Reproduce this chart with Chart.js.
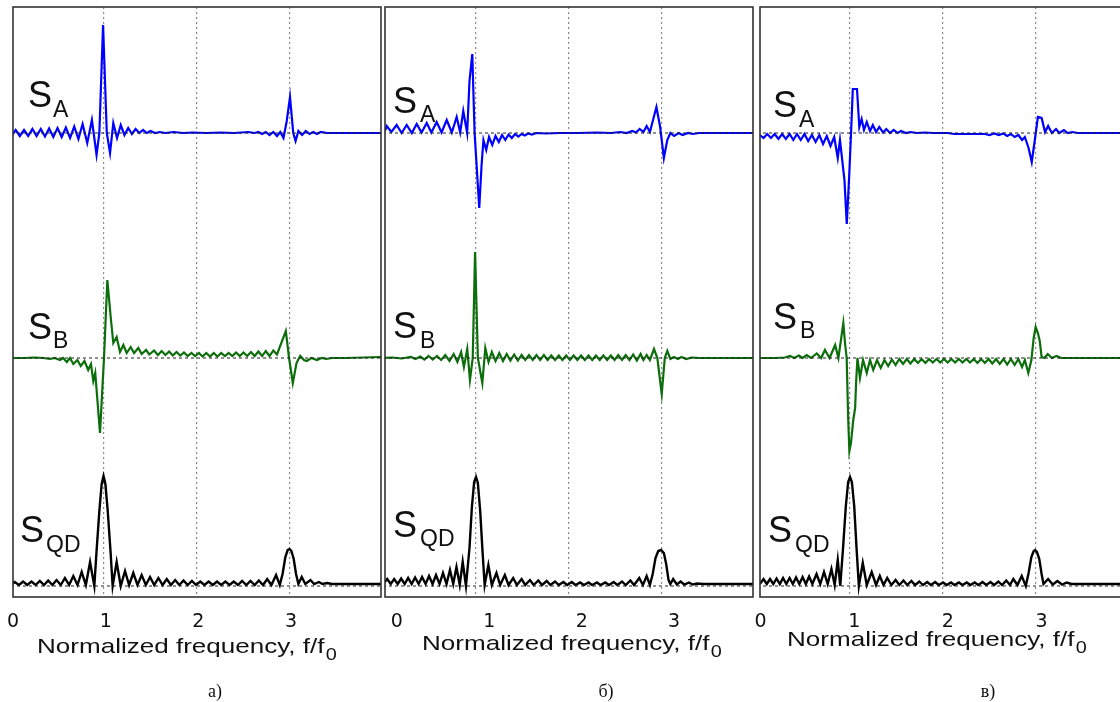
<!DOCTYPE html>
<html>
<head>
<meta charset="utf-8">
<script src="https://cdn.jsdelivr.net/npm/chart.js@4.4.1/dist/chart.umd.min.js"></script>
<style>
  body { margin: 0; background: #fff; width: 1120px; height: 702px; overflow: hidden; position: relative; }
  canvas { position: absolute; top: 0; }
</style>
</head>
<body>
<canvas id="panelA" width="392" height="702" style="left:1px"></canvas>
<canvas id="panelB" width="392" height="702" style="left:373px"></canvas>
<canvas id="panelC" width="392" height="702" style="left:748px"></canvas>
<script>
// x = normalized frequency (grid units), y = amplitude, a.u.
const tickValues = [0, 1, 2, 3];
const gridValues = [1, 2, 3];
const zeroLine = [[0, 0], [4, 0]];

// panel a)
const saA = [[0.005,-0.03],[0.05,0.03],[0.095,-0.03],[0.14,0.03],[0.185,-0.03],[0.23,0.04],[0.275,-0.03],[0.32,0.04],[0.365,-0.035],[0.41,0.045],[0.455,-0.04],[0.5,0.05],[0.545,-0.04],[0.59,0.055],[0.635,-0.05],[0.68,0.065],[0.725,-0.06],[0.77,0.09],[0.82,-0.1],[0.87,0.13],[0.92,-0.22],[0.95,0],[0.99,1.08],[1.03,0],[1.065,-0.2],[1.1,0.1],[1.14,-0.05],[1.18,0.08],[1.22,-0.02],[1.26,0.05],[1.3,-0.01],[1.34,0.04],[1.38,0],[1.42,0.03],[1.46,0],[1.5,0.02],[1.55,0],[1.6,0.01],[1.66,0],[1.75,0.01],[1.85,0],[1.95,0.005],[2.1,0],[2.25,0.005],[2.4,0],[2.55,0.01],[2.62,0],[2.66,0.01],[2.7,-0.01],[2.74,0.01],[2.78,-0.02],[2.82,0.01],[2.86,-0.03],[2.895,0.01],[2.93,-0.05],[2.965,0.12],[3.0,0.36],[3.035,0],[3.06,-0.08],[3.09,0.02],[3.13,-0.02],[3.17,0.02],[3.21,-0.01],[3.25,0.01],[3.29,-0.01],[3.33,0.01],[3.4,0],[3.98,0]];
const sbA = [[0,0],[0.15,0],[0.25,0.005],[0.35,0],[0.42,-0.01],[0.47,0],[0.527,-0.02],[0.56,0],[0.6,-0.04],[0.634,0],[0.67,-0.06],[0.713,-0.02],[0.75,-0.08],[0.79,-0.03],[0.83,-0.12],[0.86,-0.06],[0.885,-0.23],[0.906,-0.15],[0.957,-0.75],[1.0,0],[1.036,0.78],[1.072,0.41],[1.1,0.15],[1.136,0.21],[1.172,0.06],[1.208,0.13],[1.244,0.05],[1.287,0.11],[1.323,0.05],[1.369,0.1],[1.405,0.04],[1.452,0.08],[1.487,0.035],[1.538,0.075],[1.58,0.03],[1.62,0.07],[1.66,0.03],[1.7,0.065],[1.74,0.025],[1.78,0.06],[1.82,0.025],[1.86,0.055],[1.9,0.02],[1.94,0.05],[1.98,0.02],[2.02,0.05],[2.06,0.015],[2.1,0.05],[2.14,0.015],[2.18,0.05],[2.22,0.015],[2.26,0.05],[2.3,0.02],[2.34,0.05],[2.38,0.02],[2.42,0.055],[2.46,0.02],[2.5,0.055],[2.54,0.02],[2.58,0.06],[2.62,0.02],[2.66,0.065],[2.7,0.02],[2.74,0.07],[2.78,0.02],[2.82,0.075],[2.86,0.035],[2.955,0.27],[2.99,0],[3.03,-0.25],[3.07,-0.05],[3.11,0.02],[3.15,-0.02],[3.18,-0.03],[3.23,0],[3.29,-0.02],[3.34,0],[3.39,-0.01],[3.45,0],[3.6,0],[3.98,0.01]];
const sqdA = [[0,0.01],[0.04,0.04],[0.085,0.01],[0.13,0.045],[0.175,0.01],[0.22,0.045],[0.265,0.01],[0.31,0.05],[0.355,0.01],[0.4,0.055],[0.445,0.01],[0.49,0.06],[0.535,0.01],[0.58,0.08],[0.625,0.01],[0.67,0.1],[0.715,0.01],[0.76,0.14],[0.805,0.01],[0.85,0.24],[0.896,0],[0.92,0.35],[0.95,0.75],[0.975,1.02],[0.995,1.1],[1.015,1.02],[1.04,0.75],[1.07,0.35],[1.093,0],[1.136,0.24],[1.18,0],[1.226,0.15],[1.27,0.01],[1.315,0.13],[1.36,0.01],[1.405,0.11],[1.45,0.01],[1.495,0.09],[1.54,0.01],[1.585,0.08],[1.63,0.01],[1.675,0.07],[1.72,0.01],[1.765,0.06],[1.81,0.01],[1.855,0.055],[1.9,0.01],[1.945,0.05],[1.99,0.01],[2.035,0.045],[2.08,0.01],[2.125,0.045],[2.17,0.01],[2.215,0.045],[2.26,0.01],[2.305,0.045],[2.35,0.01],[2.395,0.045],[2.44,0.01],[2.485,0.05],[2.53,0.01],[2.575,0.05],[2.62,0.01],[2.665,0.055],[2.71,0.01],[2.755,0.07],[2.8,0.01],[2.85,0.11],[2.89,0.01],[2.92,0.12],[2.95,0.29],[2.975,0.36],[2.995,0.37],[3.015,0.35],[3.04,0.27],[3.065,0.12],[3.09,0.02],[3.126,0.09],[3.165,0.02],[3.22,0.06],[3.26,0.02],[3.31,0.04],[3.35,0.02],[3.4,0.03],[3.45,0.02],[3.98,0.02]];

// panel б)
const saB = [[0.02,0.02],[0.04,0.07],[0.09,0.01],[0.147,0.08],[0.2,0],[0.255,0.08],[0.31,0],[0.362,0.09],[0.415,0.005],[0.47,0.1],[0.52,0.005],[0.577,0.11],[0.63,0.005],[0.685,0.13],[0.74,0.005],[0.792,0.16],[0.83,0.005],[0.863,0.22],[0.905,0],[0.93,0.52],[0.96,0.79],[0.985,0],[1.035,-0.75],[1.06,-0.32],[1.08,-0.07],[1.11,-0.17],[1.14,-0.04],[1.175,-0.12],[1.21,-0.03],[1.245,-0.09],[1.28,-0.02],[1.315,-0.07],[1.35,-0.015],[1.385,-0.05],[1.42,-0.01],[1.455,-0.035],[1.49,-0.01],[1.525,-0.025],[1.56,-0.005],[1.6,-0.015],[1.65,0],[1.75,-0.005],[1.9,0],[2.1,0],[2.3,0.005],[2.45,0],[2.55,0.01],[2.62,0],[2.68,0.02],[2.72,0.005],[2.76,0.04],[2.8,0.01],[2.835,0.07],[2.87,0.01],[2.94,0.26],[2.98,0.06],[3.02,-0.25],[3.057,-0.07],[3.09,0],[3.13,-0.03],[3.18,0],[3.22,-0.02],[3.28,0],[3.33,-0.01],[3.4,0],[3.98,0]];
const sbB = [[0,0],[0.1,0.005],[0.2,-0.005],[0.3,0.01],[0.35,-0.01],[0.4,0.015],[0.445,-0.015],[0.49,0.02],[0.535,-0.015],[0.58,0.02],[0.625,-0.02],[0.67,0.03],[0.715,-0.03],[0.76,0.04],[0.8,-0.04],[0.84,0.06],[0.87,-0.09],[0.906,0.09],[0.935,-0.22],[0.965,0],[0.99,1.06],[1.02,0],[1.068,-0.25],[1.1,0.1],[1.135,-0.04],[1.17,0.06],[1.21,-0.03],[1.25,0.05],[1.29,-0.03],[1.33,0.04],[1.37,-0.025],[1.41,0.035],[1.45,-0.025],[1.49,0.03],[1.53,-0.02],[1.57,0.03],[1.61,-0.02],[1.65,0.03],[1.69,-0.02],[1.73,0.03],[1.77,-0.02],[1.81,0.025],[1.85,-0.02],[1.89,0.025],[1.93,-0.02],[1.97,0.025],[2.01,-0.02],[2.05,0.025],[2.09,-0.02],[2.13,0.025],[2.17,-0.02],[2.21,0.025],[2.25,-0.02],[2.29,0.025],[2.33,-0.02],[2.37,0.025],[2.41,-0.02],[2.45,0.025],[2.49,-0.02],[2.53,0.03],[2.57,-0.02],[2.61,0.03],[2.65,-0.02],[2.69,0.035],[2.73,-0.025],[2.77,0.04],[2.8,-0.02],[2.835,0.03],[2.87,-0.02],[2.914,0.09],[2.95,0],[2.997,-0.36],[3.03,0],[3.057,0.07],[3.09,-0.01],[3.13,0.01],[3.17,-0.01],[3.21,0.01],[3.26,-0.01],[3.32,0.005],[3.4,0],[3.98,0]];
const sqdB = [[0,0.02],[0.045,0.07],[0.083,0.02],[0.12,0.07],[0.158,0.02],[0.195,0.075],[0.233,0.02],[0.27,0.08],[0.308,0.02],[0.345,0.085],[0.383,0.02],[0.42,0.09],[0.458,0.02],[0.495,0.1],[0.533,0.02],[0.57,0.11],[0.608,0.02],[0.645,0.13],[0.683,0.02],[0.72,0.16],[0.755,0.02],[0.79,0.19],[0.825,0.01],[0.857,0.24],[0.892,0],[0.93,0.38],[0.955,0.78],[0.98,1.04],[1.0,1.09],[1.02,1.03],[1.045,0.75],[1.07,0.35],[1.093,0.01],[1.133,0.21],[1.17,0.01],[1.22,0.13],[1.26,0.01],[1.31,0.11],[1.35,0.01],[1.4,0.08],[1.44,0.01],[1.49,0.07],[1.53,0.01],[1.58,0.06],[1.62,0.01],[1.67,0.055],[1.71,0.01],[1.76,0.05],[1.8,0.01],[1.85,0.045],[1.89,0.01],[1.94,0.04],[1.98,0.01],[2.03,0.04],[2.07,0.01],[2.12,0.035],[2.16,0.01],[2.21,0.035],[2.25,0.01],[2.3,0.035],[2.34,0.01],[2.39,0.035],[2.43,0.01],[2.48,0.04],[2.52,0.01],[2.57,0.045],[2.61,0.01],[2.66,0.055],[2.7,0.01],[2.755,0.08],[2.795,0.01],[2.835,0.1],[2.87,0.01],[2.9,0.12],[2.93,0.28],[2.96,0.35],[2.99,0.36],[3.02,0.33],[3.045,0.22],[3.07,0.06],[3.09,0.02],[3.12,0.07],[3.16,0.015],[3.2,0.045],[3.24,0.015],[3.29,0.035],[3.33,0.015],[3.38,0.025],[3.44,0.02],[3.98,0.02]];

// panel в)
const saC = [[0.03,-0.02],[0.07,-0.05],[0.11,-0.01],[0.15,-0.05],[0.19,-0.01],[0.23,-0.06],[0.27,-0.01],[0.31,-0.06],[0.35,-0.01],[0.39,-0.07],[0.43,-0.01],[0.47,-0.07],[0.51,-0.01],[0.55,-0.08],[0.59,-0.02],[0.63,-0.09],[0.67,-0.02],[0.71,-0.11],[0.75,-0.03],[0.79,-0.13],[0.83,-0.04],[0.868,-0.25],[0.892,-0.07],[0.94,-0.47],[0.965,-0.91],[0.99,-0.45],[1.011,0],[1.03,0.44],[1.075,0.44],[1.1,0.06],[1.125,0.14],[1.15,0.03],[1.18,0.11],[1.215,0.02],[1.245,0.08],[1.28,0.01],[1.315,0.06],[1.355,0.005],[1.39,0.04],[1.43,0],[1.47,0.03],[1.51,0],[1.55,0.02],[1.6,0],[1.65,0.01],[1.72,0],[1.8,0.005],[1.9,0],[2.05,0],[2.12,-0.01],[2.3,-0.01],[2.45,-0.01],[2.5,-0.02],[2.55,-0.005],[2.6,-0.02],[2.65,-0.005],[2.69,-0.03],[2.73,-0.01],[2.77,-0.04],[2.81,-0.02],[2.85,-0.07],[2.88,-0.04],[2.92,-0.15],[2.954,-0.29],[2.99,-0.05],[3.02,0.16],[3.06,0.15],[3.097,0.01],[3.13,0.07],[3.17,0],[3.215,0.04],[3.25,0],[3.3,0.03],[3.34,0],[3.39,0.01],[3.45,0],[3.98,0]];
const sbC = [[0.03,0],[0.2,0],[0.3,0.005],[0.355,0.02],[0.4,0],[0.45,0.025],[0.49,0],[0.534,0.03],[0.58,0],[0.642,0.045],[0.69,0],[0.73,0.08],[0.78,0],[0.84,0.13],[0.875,0],[0.928,0.35],[0.946,0.15],[0.964,0],[0.98,-0.6],[0.993,-0.93],[1.01,-0.85],[1.035,-0.62],[1.055,-0.5],[1.065,-0.25],[1.08,0],[1.107,-0.2],[1.14,-0.02],[1.18,-0.15],[1.215,-0.02],[1.25,-0.12],[1.29,-0.02],[1.33,-0.1],[1.37,-0.02],[1.41,-0.08],[1.45,-0.015],[1.49,-0.07],[1.53,-0.01],[1.57,-0.06],[1.61,-0.01],[1.65,-0.055],[1.69,-0.01],[1.73,-0.05],[1.77,-0.01],[1.81,-0.05],[1.85,-0.01],[1.89,-0.045],[1.93,-0.01],[1.97,-0.045],[2.01,-0.01],[2.05,-0.045],[2.09,-0.01],[2.13,-0.045],[2.17,-0.01],[2.21,-0.045],[2.25,-0.01],[2.29,-0.045],[2.33,-0.01],[2.37,-0.05],[2.41,-0.01],[2.45,-0.05],[2.49,-0.01],[2.53,-0.055],[2.57,-0.01],[2.61,-0.06],[2.65,-0.01],[2.69,-0.065],[2.73,-0.01],[2.77,-0.07],[2.81,-0.01],[2.85,-0.09],[2.88,-0.02],[2.917,-0.15],[2.95,-0.02],[2.975,0.2],[2.996,0.31],[3.02,0.25],[3.04,0.17],[3.06,0.01],[3.09,0],[3.126,0.04],[3.17,0],[3.22,0.02],[3.27,0],[3.98,0]];
const sqdC = [[0.03,0.02],[0.07,0.07],[0.105,0.02],[0.14,0.07],[0.175,0.02],[0.21,0.075],[0.245,0.02],[0.28,0.08],[0.315,0.02],[0.35,0.08],[0.385,0.02],[0.42,0.085],[0.455,0.02],[0.49,0.09],[0.525,0.02],[0.56,0.095],[0.595,0.02],[0.64,0.12],[0.68,0.02],[0.72,0.14],[0.76,0.02],[0.8,0.17],[0.835,0.01],[0.868,0.26],[0.895,0],[0.925,0.38],[0.955,0.8],[0.98,1.04],[1.0,1.09],[1.02,1.04],[1.045,0.8],[1.07,0.38],[1.095,0],[1.137,0.23],[1.18,0.01],[1.233,0.14],[1.28,0.01],[1.32,0.1],[1.36,0.01],[1.4,0.08],[1.445,0.01],[1.49,0.06],[1.53,0.01],[1.575,0.055],[1.615,0.01],[1.66,0.05],[1.7,0.01],[1.745,0.045],[1.785,0.01],[1.83,0.04],[1.87,0.01],[1.915,0.04],[1.955,0.01],[2.0,0.035],[2.04,0.01],[2.085,0.035],[2.125,0.01],[2.17,0.035],[2.21,0.01],[2.255,0.035],[2.295,0.01],[2.34,0.035],[2.38,0.01],[2.425,0.04],[2.465,0.01],[2.51,0.04],[2.55,0.01],[2.595,0.045],[2.635,0.01],[2.68,0.055],[2.72,0.01],[2.756,0.07],[2.8,0.01],[2.846,0.1],[2.89,0],[2.92,0.13],[2.95,0.29],[2.975,0.35],[2.99,0.36],[3.01,0.34],[3.035,0.27],[3.06,0.12],[3.08,0.02],[3.13,0.07],[3.18,0.015],[3.23,0.05],[3.28,0.015],[3.33,0.035],[3.38,0.02],[3.47,0.02],[3.98,0.02]];

const signalNames = ['A', 'B', 'QD'];
const sansFont = '"Liberation Sans", Arial, sans-serif';

// blue / green / black traces, each on its own hidden y axis
const traceStyle = [
  { axis: 'yA', color: '#0000ff', width: 2.2 },
  { axis: 'yB', color: '#0b6e0b', width: 2.2 },
  { axis: 'yQ', color: '#000000', width: 2.4 }
];

// draws the frame, the S labels, the axis title and the panel caption
const panelDecor = {
  id: 'panelDecor',
  afterDraw(chart, args, opts) {
    const { ctx, chartArea: a } = chart;
    ctx.save();
    ctx.strokeStyle = '#333';
    ctx.lineWidth = 1.6;
    ctx.strokeRect(a.left, a.top, a.right - a.left, a.bottom - a.top);

    ctx.fillStyle = '#111';
    ctx.textBaseline = 'alphabetic';
    opts.labels.forEach((l, i) => {
      ctx.font = '36px ' + sansFont;
      ctx.fillText('S', a.left + l[0], l[1]);
      ctx.font = '23px ' + sansFont;
      ctx.fillText(signalNames[i], a.left + l[2], l[3]);
    });

    const main = 'Normalized frequency, f/f';
    ctx.save();
    ctx.translate(a.left + opts.titleX, opts.titleY);
    ctx.scale(1.24, 1);
    ctx.font = '21px ' + sansFont;
    ctx.fillText(main, 0, 0);
    const w = ctx.measureText(main).width;
    ctx.font = '16px ' + sansFont;
    ctx.fillText('0', w + 1, 7);
    ctx.restore();

    ctx.font = '18px "Liberation Serif", "Times New Roman", serif';
    ctx.textAlign = 'center';
    ctx.fillText(opts.caption, a.left + opts.captionX, 697);
    ctx.restore();
  }
};

// keep the plot box where the reference has it: no extra side padding for labels
function fixBox(height) {
  return ax => {
    ax.height = height;
    ax.paddingLeft = 0;
    ax.paddingRight = 0;
  };
}

function makePanel(id, curves, opt) {
  const datasets = curves.map((pts, i) => ({
    data: pts,
    xAxisID: 'x',
    yAxisID: traceStyle[i].axis,
    borderColor: traceStyle[i].color,
    borderWidth: traceStyle[i].width,
    pointRadius: 0,
    tension: 0,
    order: 1
  }));
  traceStyle.forEach(s => datasets.push({
    data: zeroLine,
    xAxisID: 'x',
    yAxisID: s.axis,
    borderColor: '#222',
    borderWidth: 1,
    borderDash: [3, 3],
    pointRadius: 0,
    order: 0
  }));

  new Chart(document.getElementById(id), {
    type: 'line',
    data: { datasets },
    plugins: [panelDecor],
    options: {
      responsive: false,
      animation: false,
      layout: { padding: { left: 12, right: 12, top: 7, bottom: 65 } },
      plugins: {
        legend: { display: false },
        tooltip: { enabled: false },
        panelDecor: opt.decor
      },
      scales: {
        xt: {
          type: 'linear',
          position: 'bottom',
          min: opt.labelMin,
          max: opt.labelMax,
          afterBuildTicks: ax => { ax.ticks = tickValues.map(v => ({ value: v })); },
          afterFit: fixBox(40),
          border: { display: false },
          grid: { display: false, drawTicks: false },
          ticks: {
            padding: 14,
            maxRotation: 0,
            autoSkip: false,
            color: '#111',
            font: { family: '"DejaVu Sans", sans-serif', size: 19 }
          }
        },
        x: {
          type: 'linear',
          position: 'bottom',
          min: opt.gridMin,
          max: opt.gridMin + 3.957,
          afterBuildTicks: ax => { ax.ticks = gridValues.map(v => ({ value: v })); },
          afterFit: fixBox(0),
          ticks: { display: false },
          border: { display: false, dash: [2, 3] },
          grid: { color: '#8a8a8a', lineWidth: 1.2, drawTicks: false }
        },
        yA: { type: 'linear', display: false, min: -4.64, max: 1.26 },
        yB: { type: 'linear', display: false, min: -2.39, max: 3.51 },
        yQ: { type: 'linear', display: false, min: -0.11, max: 5.79 }
      }
    }
  });
}

makePanel('panelA', [saA, sbA, sqdA], {
  gridMin: 0.0215, labelMin: 0, labelMax: 3.97,
  decor: { labels: [[15, 107, 40, 117], [15, 339, 40, 348], [7, 542, 33, 552]], titleX: 24, titleY: 653, captionX: 202, caption: 'а)' }
});
makePanel('panelB', [saB, sbB, sqdB], {
  gridMin: 0.0215, labelMin: -0.129, labelMax: 3.854,
  decor: { labels: [[8, 113, 35, 122], [8, 338, 35, 348], [8, 537, 35, 546]], titleX: 37, titleY: 650, captionX: 221, caption: 'б)' }
});
makePanel('panelC', [saC, sbC, sqdC], {
  gridMin: 0.032, labelMin: -0.006, labelMax: 3.924,
  decor: { labels: [[13, 117, 39, 127], [13, 329, 40, 338], [8, 542, 35, 552]], titleX: 27, titleY: 646, captionX: 228, caption: 'в)' }
});
</script>
</body>
</html>
